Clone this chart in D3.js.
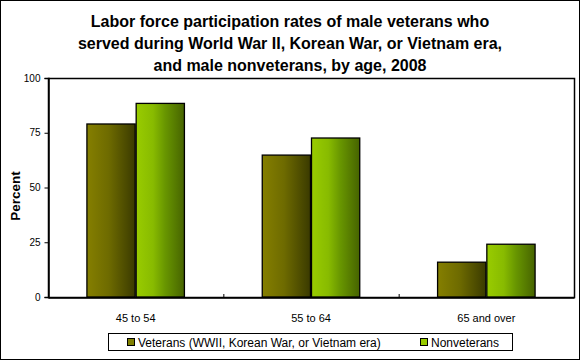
<!DOCTYPE html>
<html><head><meta charset="utf-8">
<script src="https://cdn.jsdelivr.net/npm/d3@7"></script>
<style>body{margin:0;background:#fff}svg{display:block}</style>
</head><body>
<script>
const categories = ["45 to 54", "55 to 64", "65 and over"];
const seriesNames = ["Veterans (WWII, Korean War, or Vietnam era)", "Nonveterans"];
const veterans = [79.0, 64.8, 15.9];
const nonveterans = [88.4, 72.6, 24.1];
const yTicks = [0, 25, 50, 75, 100];
const titleLines = ["Labor force participation rates of male veterans who",
  "served during World War II, Korean War, or Vietnam era,",
  "and male nonveterans, by age, 2008"];

const W = 580, H = 360;
const svg = d3.select("body").append("svg").attr("width", W).attr("height", H);
const font = "Arial, 'Liberation Sans', sans-serif";

const defs = svg.append("defs");
function grad(id, stops) {
  const g = defs.append("linearGradient").attr("id", id).attr("x1", 0).attr("x2", 1).attr("y1", 0).attr("y2", 0);
  stops.forEach(s => g.append("stop").attr("offset", s[0]).attr("stop-color", s[1]));
}
grad("gVet", [[0, "#857f00"], [0.45, "#6e6b00"], [1, "#3a3a00"]]);
grad("gNon", [[0, "#99cc00"], [0.35, "#88bb00"], [0.6, "#689600"], [1, "#466300"]]);
const colors = ["url(#gVet)", "url(#gNon)"];
const swatch = ["#808000", "#99cc00"];

svg.append("rect").attr("x", 0.5).attr("y", 0.5).attr("width", W - 1).attr("height", H - 1)
  .attr("fill", "#fff").attr("stroke", "#000");

const title = svg.append("text").attr("text-anchor", "middle").attr("font-family", font)
  .attr("font-weight", "bold").attr("font-size", 16);
titleLines.forEach((t, i) => title.append("tspan").attr("x", 290).attr("y", 27 + i * 22).text(t));

const m = {left: 48, right: 574, top: 78, bottom: 297};
const x = d3.scaleBand().domain(categories).range([m.left, m.right]).paddingInner(0).paddingOuter(0);
const y = d3.scaleLinear().domain([0, 100]).range([m.bottom, m.top]);

// plot area border
svg.append("rect").attr("x", m.left + 0.5).attr("y", m.top + 0.5)
  .attr("width", m.right - m.left).attr("height", m.bottom - m.top)
  .attr("fill", "none").attr("stroke", "#000").attr("stroke-width", 1.5);

const xs = d3.scaleBand().domain([0, 1]).range([0, x.bandwidth()]).paddingOuter(0.78).paddingInner(0);
const data = [veterans, nonveterans];
data.forEach((vals, si) => {
  svg.append("g").selectAll("rect").data(categories).join("rect")
    .attr("x", d => x(d) + xs(si) + 0.5)
    .attr("y", (d, i) => y(vals[i]))
    .attr("width", xs.bandwidth() - 1)
    .attr("height", (d, i) => m.bottom - y(vals[i]))
    .attr("fill", colors[si]).attr("stroke", "#000").attr("stroke-width", 1.3);
});

// y axis
const ya = svg.append("g").attr("transform", `translate(${m.left + 0.5},0)`)
  .call(d3.axisLeft(y).tickValues(yTicks).tickSize(4).tickPadding(4));
ya.select(".domain").attr("stroke-width", 1.5);
ya.selectAll("text").attr("font-family", font).attr("font-size", 10).attr("fill", "#000");

// x axis
const xa = svg.append("g").attr("transform", `translate(0,${m.bottom + 0.5})`)
  .call(d3.axisBottom(x).tickSize(0).tickPadding(17));
xa.select(".domain").attr("stroke-width", 1.5);
xa.selectAll("text").attr("font-family", font).attr("font-size", 11).attr("fill", "#000");
// category separators (inner ticks)
svg.append("g").selectAll("line").data(categories.slice(1)).join("line")
  .attr("x1", d => x(d) + 0.5).attr("x2", d => x(d) + 0.5)
  .attr("y1", m.bottom - 3).attr("y2", m.bottom).attr("stroke", "#000");

svg.append("text").attr("transform", "translate(20,196) rotate(-90)")
  .attr("text-anchor", "middle").attr("font-family", font).attr("font-weight", "bold")
  .attr("font-size", 13.5).text("Percent");

// legend
const lg = svg.append("g");
lg.append("rect").attr("x", 108.5).attr("y", 333.5).attr("width", 404).attr("height", 17)
  .attr("fill", "#fff").attr("stroke", "#000");
const lx = [127, 420];
seriesNames.forEach((n, i) => {
  lg.append("rect").attr("x", lx[i] + 0.5).attr("y", 338.5).attr("width", 7).attr("height", 7)
    .attr("fill", swatch[i]).attr("stroke", "#000");
  lg.append("text").attr("x", lx[i] + 11).attr("y", 346.5).attr("font-family", font)
    .attr("font-size", 12).text(n);
});
</script>
</body></html>
